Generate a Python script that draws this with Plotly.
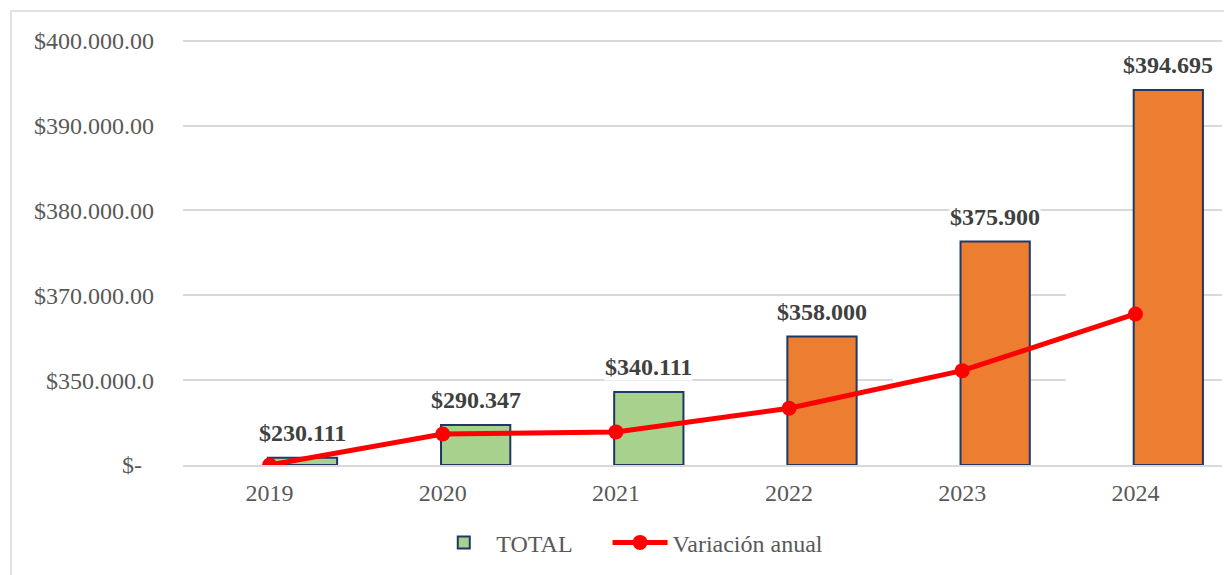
import plotly.graph_objects as go

# ---------------- data ----------------
years = ["2019", "2020", "2021", "2022", "2023", "2024"]
# bar heights, in gridline units (0 = "$-", 1 = next gridline, ...)
total_height = [0.086, 0.472, 0.86, 1.513, 2.633, 4.42]
total_labels = ["$230.111", "$290.347", "$340.111", "$358.000", "$375.900", "$394.695"]
bar_colors = ["#A9D18E", "#A9D18E", "#A9D18E", "#ED7D31", "#ED7D31", "#ED7D31"]
# annual variation line, same units
variacion = [0.0, 0.366, 0.39, 0.669, 1.112, 1.78]
y_tickvals = [0, 1, 2, 3, 4, 5]
y_ticktext = ["$-\u00a0\u00a0", "$350.000.0", "$370.000.00", "$380.000.00",
              "$390.000.00", "$400.000.00"]

FONT = "Times New Roman, Liberation Serif, serif"
GRAY = "#595959"
BAR_OFFSET = -0.01
BAR_WIDTH = 0.4
CAT_PX = 1039 / 6.0

fig = go.Figure()
fig.add_trace(go.Bar(
    x=years, y=total_height, name="TOTAL" + "\u00a0" * 5,
    marker=dict(color=bar_colors, line=dict(color="#1F3864", width=2)),
    offset=BAR_OFFSET, width=BAR_WIDTH,
))
fig.add_trace(go.Scatter(
    x=years, y=variacion, name="Variación anual", mode="lines+markers",
    line=dict(color="#FF0000", width=5),
    marker=dict(color="#FF0000", size=15),
))

# data labels above bars (x as category index)
bar_center_px = (BAR_OFFSET + BAR_WIDTH / 2) * CAT_PX
for i, (h, lab) in enumerate(zip(total_height, total_labels)):
    fig.add_annotation(
        x=i, xref="x", y=h, yref="y", text="<b>%s</b>" % lab, showarrow=False,
        xshift=bar_center_px, yshift=25, xanchor="center", yanchor="middle",
        font=dict(family=FONT, size=24, color="#404040"),
        bgcolor="white", borderpad=0,
    )

shapes = [
    # outer chart border
    dict(type="rect", xref="paper", yref="paper", x0=-0.1655, x1=1.05, y0=-0.4, y1=1.039,
         line=dict(color="#D9D9D9", width=1.5), fillcolor="rgba(0,0,0,0)", layer="below"),
    # white patches covering parts of the grid (as in the reference)
    dict(type="rect", xref="x", yref="y", x0=4.598, x1=4.99, y0=0.53, y1=2.54,
         line=dict(width=0), fillcolor="white", layer="between"),
    dict(type="rect", xref="x", yref="y", x0=3.6, x1=3.99, y0=0.6, y1=1.5,
         line=dict(width=0), fillcolor="white", layer="between"),
]

fig.update_layout(
    width=1224, height=567,
    margin=dict(l=175, r=10, t=20, b=110),
    paper_bgcolor="white", plot_bgcolor="white",
    font=dict(family=FONT, size=24, color=GRAY),
    showlegend=True,
    legend=dict(orientation="h", x=0.43, y=-0.178, xanchor="center", yanchor="middle",
                font=dict(family=FONT, size=24, color=GRAY), itemwidth=55,
                traceorder="normal"),
    shapes=shapes,
    bargap=0.2,
)
fig.update_xaxes(
    type="category", range=[-0.5, 5.5],
    showgrid=False, showline=True, linecolor="#D9D9D9", linewidth=1.5,
    ticks="", tickfont=dict(family=FONT, size=24, color=GRAY),
    ticklabelstandoff=5,
)
fig.update_yaxes(
    range=[0, 5.15], tickvals=y_tickvals, ticktext=y_ticktext,
    showgrid=True, gridcolor="#D9D9D9", gridwidth=1.5,
    zeroline=False, showline=False, ticks="",
    tickfont=dict(family=FONT, size=24, color=GRAY),
    ticklabelstandoff=28,
)

fig.write_html("out.html")
